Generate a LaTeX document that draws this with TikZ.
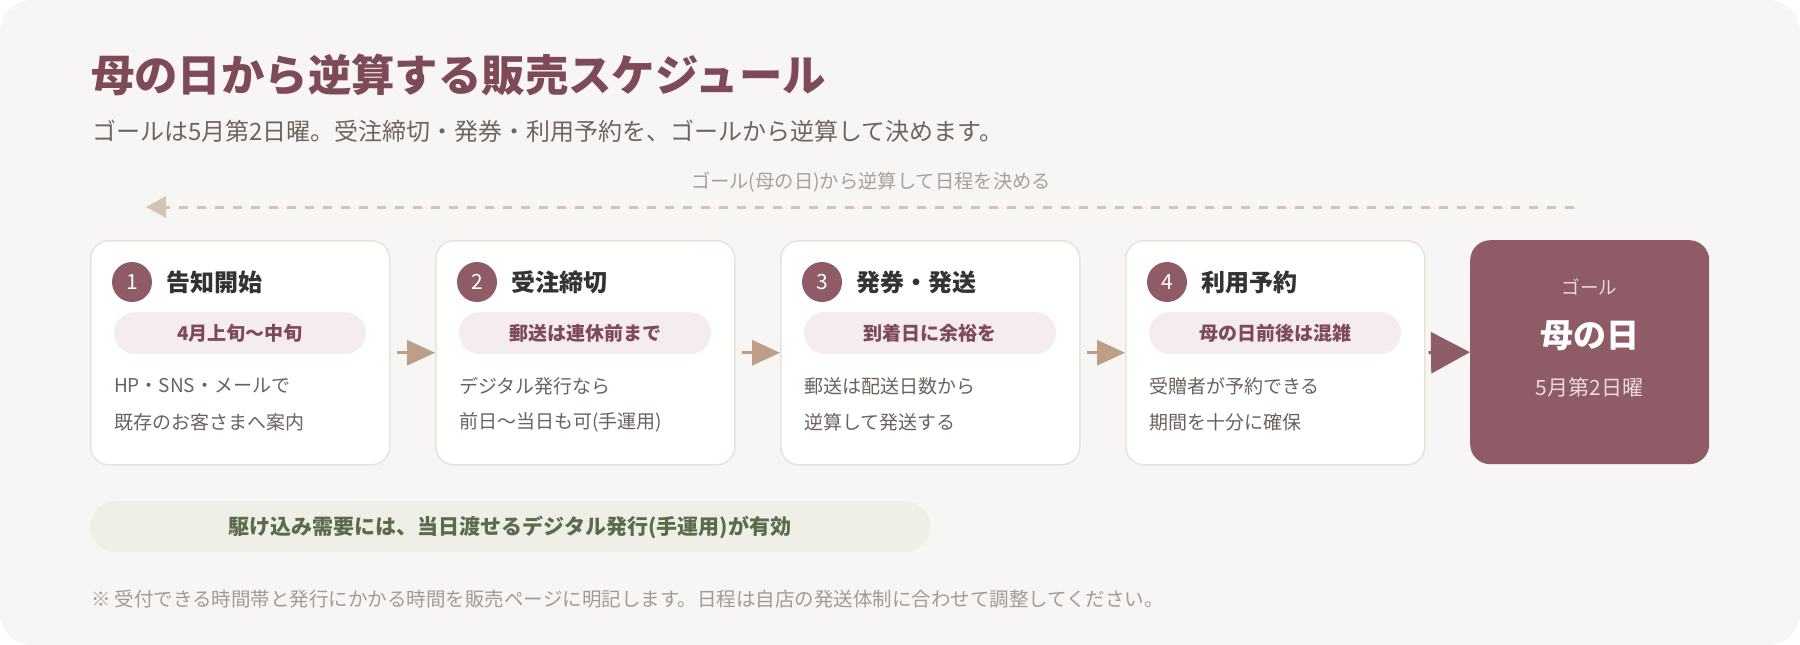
\documentclass[tikz,border=0pt]{standalone}
\usepackage{fontspec}
\setmainfont{Noto Sans CJK JP}
\usetikzlibrary{arrows.meta}
\definecolor{bgc}{HTML}{F8F6F4}
\definecolor{titlec}{HTML}{7E4A58}
\definecolor{subc}{HTML}{6E6561}
\definecolor{dashlabel}{HTML}{A8A09A}
\definecolor{dashc}{HTML}{D4C4B2}
\definecolor{boxborder}{HTML}{EAE2DA}
\definecolor{maroon}{HTML}{8E5B67}
\definecolor{headc}{HTML}{333333}
\definecolor{pillfill}{HTML}{F5ECEE}
\definecolor{pilltext}{HTML}{7E4A58}
\definecolor{descc}{HTML}{6B625E}
\definecolor{tanc}{HTML}{BD9E87}
\definecolor{goalsub}{HTML}{EBDADE}
\definecolor{greenfill}{HTML}{EEF0E8}
\definecolor{greentext}{HTML}{5C6B4C}
\definecolor{footc}{HTML}{A39A95}
\tikzset{
  txt/.style={inner sep=0pt, outer sep=0pt},
  stepbox/.style={draw=boxborder, line width=1.5pt, fill=white, rounded corners=18pt,
    minimum width=299pt, minimum height=224pt, inner sep=0pt, anchor=north west},
  numdot/.style={circle, fill=maroon, minimum size=40pt, inner sep=0pt, text=white,
    font=\fontsize{21}{24}\selectfont},
  headtxt/.style={txt, anchor=west, text=headc, font=\fontsize{24}{28}\selectfont\bfseries},
  pill/.style={fill=pillfill, rounded corners=21pt, minimum width=252pt, minimum height=42pt,
    inner sep=0pt, text=pilltext, font=\fontsize{19}{23}\selectfont\bfseries},
  desc/.style={txt, anchor=west, text=descc, font=\fontsize{19}{23}\selectfont},
  tanarrow/.style={draw=tanc, line width=3pt, -{Triangle[length=28pt,width=25pt]}},
  goalarrow/.style={draw=maroon, line width=3pt, -{Triangle[length=39pt,width=41pt]}},
  dashline/.style={draw=dashc, line width=3pt, dash pattern=on 9pt off 9pt,
    -{Triangle[length=20pt,width=21pt]}},
}
\begin{document}
\begin{tikzpicture}[x=1pt,y=-1pt]
\useasboundingbox (0,0) rectangle (1800,645);
\fill[white] (0,0) rectangle (1800,645);
\fill[bgc, rounded corners=32pt] (0,0) rectangle (1800,645);

\node[txt, anchor=west, text=titlec, font=\fontsize{43.4}{50}\selectfont\bfseries] (title) at (91,75) {母の日から逆算する販売スケジュール};
\node[txt, anchor=west, text=subc, font=\fontsize{24}{28}\selectfont] (subtitle) at (92,131) {ゴールは5月第2日曜。受注締切・発券・利用予約を、ゴールから逆算して決めます。};

\node[txt, text=dashlabel, font=\fontsize{19.3}{22}\selectfont] (dashlbl) at (871,182) {ゴール(母の日)から逆算して日程を決める};
\coordinate (dashR) at (1574,207);
\coordinate (dashL) at (146,207);
\draw[dashline] (dashR) -- (dashL);

\foreach \i/\x/\head/\pilltxt/\la/\lb in {
  1/90/告知開始/4月上旬〜中旬/HP・SNS・メールで/既存のお客さまへ案内,
  2/435/受注締切/郵送は連休前まで/デジタル発行なら/前日〜当日も可(手運用),
  3/780/発券・発送/到着日に余裕を/郵送は配送日数から/逆算して発送する,
  4/1125/利用予約/母の日前後は混雑/受贈者が予約できる/期間を十分に確保}{
  \node[stepbox] (box\i) at (\x,240) {};
  \node[numdot] (num\i) at (\x+42,282) {\i};
  \node[headtxt] (head\i) at (\x+76,282) {\head};
  \node[pill] (pill\i) at (\x+150,333) {\pilltxt};
  \node[desc] (da\i) at (\x+24,386) {\la};
  \node[desc] (db\i) at (\x+24,422) {\lb};
}

\node[fill=maroon, rounded corners=20pt, minimum width=239pt, minimum height=224pt,
  inner sep=0pt, anchor=north west] (goal) at (1470,240) {};
\node[txt, text=goalsub, font=\fontsize{18.5}{22}\selectfont] (goallbl) at (1589.5,287) {ゴール};
\node[txt, text=white, font=\fontsize{33}{38}\selectfont\bfseries] (goalname) at (1589.5,336) {母の日};
\node[txt, text=goalsub, font=\fontsize{21}{25}\selectfont] (goaldate) at (1589.5,387) {5月第2日曜};

\foreach \a/\b in {1/2,2/3,3/4}{
  \draw[tanarrow] ([xshift=6pt]box\a.east) -- (box\b.west);
}
\draw[goalarrow] ([xshift=3pt]box4.east) -- (goal.west);

\node[fill=greenfill, rounded corners=25.5pt, minimum width=840pt, minimum height=51pt,
  inner sep=0pt, anchor=north west] (tip) at (90,501) {};
\node[txt, text=greentext, font=\fontsize{21}{25}\selectfont\bfseries] (tiptxt) at (510,527) {駆け込み需要には、当日渡せるデジタル発行(手運用)が有効};

\node[txt, anchor=west, text=footc, font=\fontsize{19.5}{23}\selectfont] (foot) at (91,599) {※ 受付できる時間帯と発行にかかる時間を販売ページに明記します。日程は自店の発送体制に合わせて調整してください。};
\end{tikzpicture}
\end{document}
